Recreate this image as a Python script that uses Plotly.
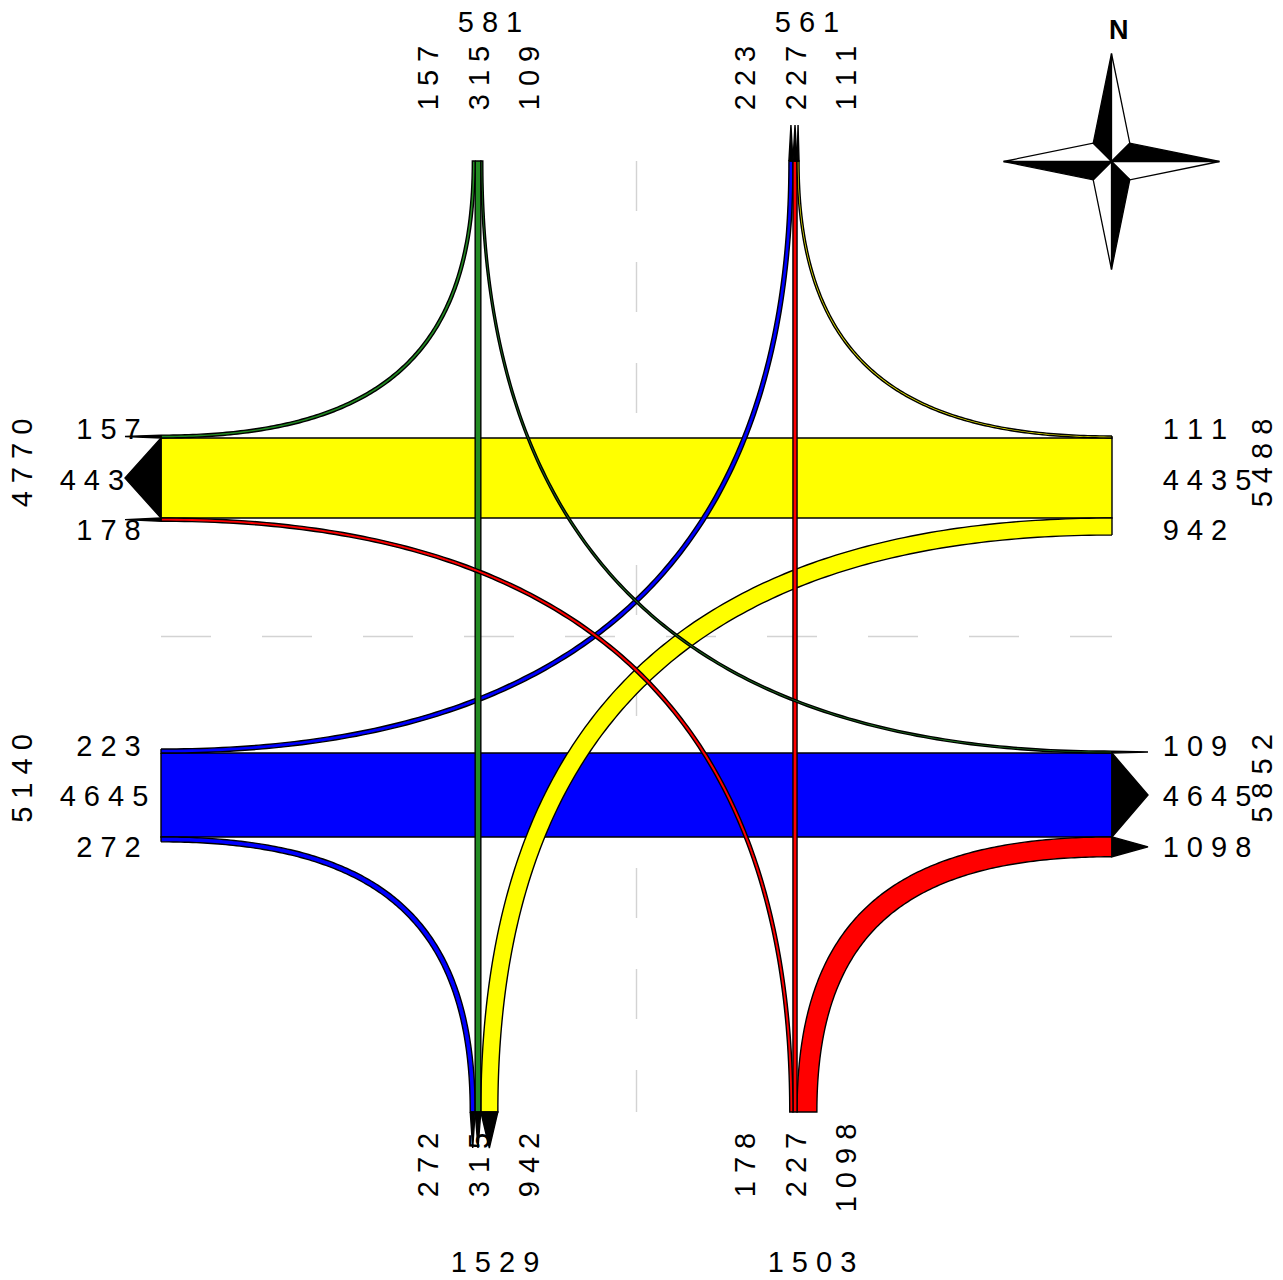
import plotly.graph_objs as go

# flows per approach, order is [upper/left turn, through, lower/right turn]
west_upper = [157, 4435, 178]
east_upper = [111, 4435, 942]
west_lower = [223, 4645, 272]
east_lower = [109, 4645, 1098]
north_left = [157, 315, 109]
north_right = [223, 227, 111]
south_left = [272, 315, 942]
south_right = [178, 227, 1098]

# approach totals
total_west = [4770, 5140]
total_east = [5488, 5852]
total_north = [581, 561]
total_south = [1529, 1503]

# drawing scale
SCALE = 0.01806
LOW = 161.0
HIGH = 1112.0
MID = 636.5
ROAD = 158.5
ARROW = 36.0
UP_Y = MID - ROAD
DOWN_Y = MID + ROAD
LEFT_X = MID - ROAD
RIGHT_X = MID + ROAD

# curve tension, the short turns are a bit rounder than the long ones
LONG_K = 2 / 3
SHORT_K = 0.70

FONT = "Liberation Sans"
BLACK = "#000000"
YELLOW = "#ffff00"
BLUE = "#0000ff"
RED = "#ff0000"
GREEN = "#228b22"


def lanes(values, center):
    w0, w1, w2 = [v * SCALE for v in values]
    return [(center - w1 / 2 - w0, center - w1 / 2),
            (center - w1 / 2, center + w1 / 2),
            (center + w1 / 2, center + w1 / 2 + w2)]


def poly(xs, ys, fill, width=1.4):
    return go.Scatter(x=xs, y=ys, mode="lines", fill="toself", fillcolor=fill,
                      line=dict(color=BLACK, width=width, simplify=False), hoverinfo="skip",
                      showlegend=False)


def curve(x0, y0, x1, y1, k, n=160):
    # cubic bezier, horizontal at the (x0, y0) end, vertical at the (x1, y1) end
    ax = x0 + k * (x1 - x0)
    by = y1 + k * (y0 - y1)
    xs, ys = [], []
    for i in range(n + 1):
        t = i / n
        u = 1 - t
        xs.append(u ** 3 * x0 + 3 * u * u * t * ax + (3 * u * t * t + t ** 3) * x1)
        ys.append((u ** 3 + 3 * u * u * t) * y0 + 3 * u * t * t * by + t ** 3 * y1)
    return xs, ys


def turn(x0, y_lane, x_lane, y1, fill, k=LONG_K):
    ys_pair = sorted(y_lane, key=lambda v: abs(v - y1))
    xs_pair = sorted(x_lane, key=lambda v: abs(v - x0))
    ax, ay = curve(x0, ys_pair[0], xs_pair[0], y1, k)
    bx, by = curve(x0, ys_pair[1], xs_pair[1], y1, k)
    return poly(ax + bx[::-1] + [ax[0]], ay + by[::-1] + [ay[0]], fill)


def horizontal(y_lane, fill):
    a, b = y_lane
    return poly([LOW, HIGH, HIGH, LOW, LOW], [a, a, b, b, a], fill)


def vertical(x_lane, fill):
    a, b = x_lane
    return poly([a, b, b, a, a], [LOW, LOW, HIGH, HIGH, LOW], fill)


def arrow_h(y_lane, x, step):
    a, b = y_lane
    return poly([x, x + step, x, x], [a, (a + b) / 2, b, a], BLACK)


def arrow_v(x_lane, y, step):
    a, b = x_lane
    return poly([a, (a + b) / 2, b, a], [y, y + step, y, y], BLACK)


wu = lanes(west_upper, UP_Y)
eu = lanes(east_upper, UP_Y)
wl = lanes(west_lower, DOWN_Y)
el = lanes(east_lower, DOWN_Y)
nl = lanes(north_left, LEFT_X)
nr = lanes(north_right, RIGHT_X)
sl = lanes(south_left, LEFT_X)
sr = lanes(south_right, RIGHT_X)

traces = [
    # centre lines
    go.Scatter(x=[LOW, HIGH], y=[MID, MID], mode="lines", hoverinfo="skip", showlegend=False,
               line=dict(color="#d3d3d3", width=1.4, dash="50px,51px")),
    go.Scatter(x=[MID, MID], y=[LOW, HIGH], mode="lines", hoverinfo="skip", showlegend=False,
               line=dict(color="#d3d3d3", width=1.4, dash="50px,51px")),
    # through bands along the two horizontal roads
    horizontal(eu[1], YELLOW),
    horizontal(wl[1], BLUE),
    # turns
    turn(HIGH, eu[2], sl[2], HIGH, YELLOW),
    turn(HIGH, el[2], sr[2], HIGH, RED, SHORT_K),
    turn(LOW, wl[0], nr[0], LOW, BLUE),
    turn(LOW, wl[2], sl[0], HIGH, BLUE, SHORT_K),
    # through bands along the two vertical roads
    vertical(nl[1], GREEN),
    vertical(nr[1], RED),
    turn(LOW, wu[0], nl[0], LOW, GREEN, SHORT_K),
    turn(HIGH, el[0], nl[2], LOW, GREEN),
    turn(HIGH, eu[0], nr[2], LOW, YELLOW, SHORT_K),
    turn(LOW, wu[2], sr[0], HIGH, RED),
    # arrow heads
    arrow_h(wu[0], LOW, -ARROW),
    arrow_h(wu[1], LOW, -ARROW),
    arrow_h(wu[2], LOW, -ARROW),
    arrow_h(el[0], HIGH, ARROW),
    arrow_h(el[1], HIGH, ARROW),
    arrow_h(el[2], HIGH, ARROW),
    arrow_v(nr[0], LOW, -ARROW),
    arrow_v(nr[1], LOW, -ARROW),
    arrow_v(nr[2], LOW, -ARROW),
    arrow_v(sl[0], HIGH, ARROW),
    arrow_v(sl[1], HIGH, ARROW),
    arrow_v(sl[2], HIGH, ARROW),
]

# north arrow
CX, CY = 1111.5, 161.5
ARM = 108.0
INNER = 18.3
star = [
    ([CX, CX - INNER, CX], [CY - ARM, CY - INNER, CY], BLACK),
    ([CX, CX + INNER, CX], [CY - ARM, CY - INNER, CY], "#ffffff"),
    ([CX + ARM, CX + INNER, CX], [CY, CY - INNER, CY], BLACK),
    ([CX + ARM, CX + INNER, CX], [CY, CY + INNER, CY], "#ffffff"),
    ([CX, CX + INNER, CX], [CY + ARM, CY + INNER, CY], BLACK),
    ([CX, CX - INNER, CX], [CY + ARM, CY + INNER, CY], "#ffffff"),
    ([CX - ARM, CX - INNER, CX], [CY, CY + INNER, CY], BLACK),
    ([CX - ARM, CX - INNER, CX], [CY, CY - INNER, CY], "#ffffff"),
]
for sx, sy, col in star:
    traces.append(poly(sx + [sx[0]], sy + [sy[0]], col, 1.3))

fig = go.Figure(traces)


def spaced(v):
    return " ".join(str(v))


def add_label(x, y, value, angle=0):
    # shape labels sit under the traces, the arrow heads cover parts of the numbers
    if angle:
        x -= 3
    else:
        y -= 3
    fig.add_shape(type="rect", x0=x - 1, x1=x + 1, y0=y - 1, y1=y + 1, layer="below",
                  line=dict(width=0), fillcolor="rgba(0,0,0,0)",
                  label=dict(text=spaced(value), textangle=angle, textposition="middle center",
                             font=dict(family=FONT, size=29, color=BLACK)))


# west side
for y, v in zip([429, 480, 530], west_upper):
    add_label(104 if v > 999 else 108.5, y, v)
for y, v in zip([746, 796, 847], west_lower):
    add_label(104 if v > 999 else 108.5, y, v)
# east side
for y, v in zip([429, 480, 530], east_upper):
    add_label(1207 if v > 999 else 1195, y, v)
for y, v in zip([746, 796, 847], east_lower):
    add_label(1207 if v > 999 else 1195, y, v)
# north side
for x, v in zip([428, 479, 529], north_left):
    add_label(x, 78, v, -90)
for x, v in zip([745, 796, 846], north_right):
    add_label(x, 78, v, -90)
# south side
for x, v in zip([428, 479, 529], south_left):
    add_label(x, 1165, v, -90)
for x, v in zip([745, 796, 846], south_right):
    add_label(x, 1168 if v > 999 else 1165, v, -90)
# totals
for x, v in zip([490, 807], total_north):
    add_label(x, 22, v)
for x, v in zip([495, 812], total_south):
    add_label(x, 1262, v)
for y, v in zip([463, 778.5], total_west):
    add_label(22, y, v, -90)
for y, v in zip([463, 778.5], total_east):
    add_label(1262, y, v, -90)

fig.add_annotation(x=1119, y=30, text="<b>N</b>", showarrow=False,
                   font=dict(family=FONT, size=27, color=BLACK))

fig.update_layout(width=1283, height=1280, margin=dict(l=0, r=0, t=0, b=0),
                  paper_bgcolor="#ffffff", plot_bgcolor="#ffffff", showlegend=False,
                  xaxis=dict(range=[0, 1283], visible=False),
                  yaxis=dict(range=[1280, 0], visible=False))

fig.write_html("out.html", config=dict(displayModeBar=False),
               post_script="document.body.style.margin = '0';")
